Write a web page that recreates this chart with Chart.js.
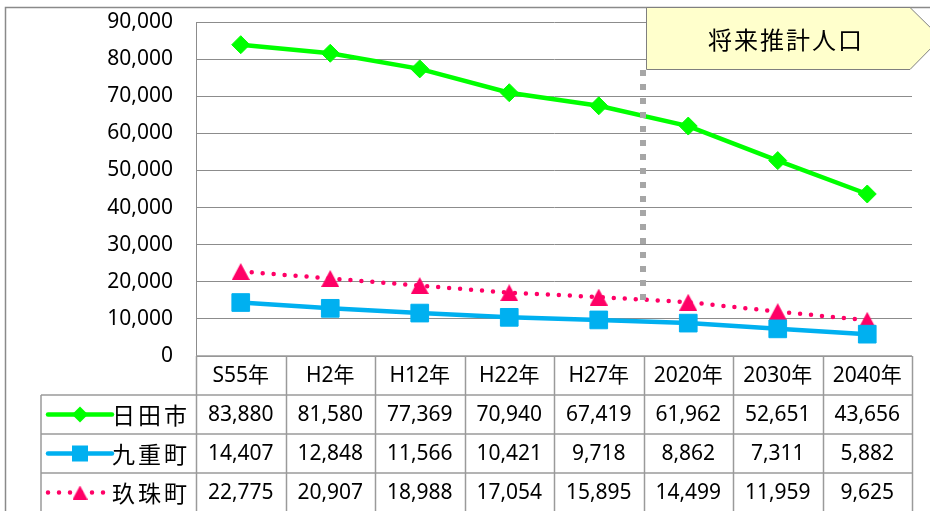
<!DOCTYPE html>
<html><head><meta charset="utf-8">
<script src="https://cdn.jsdelivr.net/npm/chart.js@4/dist/chart.umd.min.js"></script>
<style>html,body{margin:0;padding:0;background:#fff;overflow:hidden}#wrap{width:930px;height:511px;position:relative}</style>
</head><body><div id="wrap"><canvas id="c" width="930" height="511"></canvas></div>
<script>
const categories = ['S55年','H2年','H12年','H22年','H27年','2020年','2030年','2040年'];
const seriesNames = ['日田市','九重町','玖珠町'];
const hitaValues = [83880,81580,77369,70940,67419,61962,52651,43656];
const kokonoeValues = [14407,12848,11566,10421,9718,8862,7311,5882];
const kusuValues = [22775,20907,18988,17054,15895,14499,11959,9625];
const yTicks = [0,10000,20000,30000,40000,50000,60000,70000,80000,90000];
const calloutText = '将来推計人口';
const projectionStartIndex = 5;
const dividerBottomValue = 13500;

const GREEN = '#00FF00', BLUE = '#00B0F0', PINK = '#FF0066';
const LINE_GRAY = '#8c8c8c', TABLE_GRAY = '#9a9a9a';
const NUM_FONT = '21px "Noto Sans", "Open Sans", sans-serif';
const CJK_FONT = '23px "Noto Sans CJK JP", "Noto Sans", sans-serif';

function triangleCanvas(color, w, h) {
  const cv = document.createElement('canvas');
  cv.width = w; cv.height = h;
  const g = cv.getContext('2d');
  g.fillStyle = color;
  g.beginPath(); g.moveTo(w/2, 0); g.lineTo(w, h); g.lineTo(0, h); g.closePath(); g.fill();
  return cv;
}
const triImg = triangleCanvas(PINK, 18, 17);
const triImgSmall = triangleCanvas(PINK, 15, 14);

function drawLegendSample(ctx, i, x0, x1, y) {
  ctx.save();
  const col = [GREEN, BLUE, PINK][i];
  const xm = (x0 + x1) / 2;
  ctx.strokeStyle = col; ctx.fillStyle = col; ctx.lineWidth = 4.5; ctx.lineCap = 'round';
  if (i === 2) { ctx.setLineDash([0, 11]); }
  ctx.beginPath(); ctx.moveTo(x0, y); ctx.lineTo(x1, y); ctx.stroke();
  ctx.setLineDash([]);
  if (i === 0) {
    ctx.beginPath(); ctx.moveTo(xm - 8, y); ctx.lineTo(xm, y - 8); ctx.lineTo(xm + 8, y); ctx.lineTo(xm, y + 8); ctx.closePath(); ctx.fill();
  } else if (i === 1) {
    ctx.fillRect(xm - 8, y - 8, 16, 16);
  } else {
    ctx.drawImage(triImgSmall, xm - 7.5, y - 7);
  }
  ctx.restore();
}

const tablePlugin = {
  id: 'tableAndNotes',
  afterDatasetsDraw(chart) {
    const ctx = chart.ctx, xs = chart.scales.x, ys = chart.scales.y;
    const colW = xs.getPixelForValue(1) - xs.getPixelForValue(0);
    const left = xs.getPixelForValue(0) - colW / 2;
    const xDiv = Math.round(left + projectionStartIndex * colW) - 1;
    ctx.save();
    ctx.strokeStyle = '#a6a6a6'; ctx.lineWidth = 6; ctx.setLineDash([6, 8]);
    ctx.beginPath(); ctx.moveTo(xDiv, 70); ctx.lineTo(xDiv, ys.getPixelForValue(dividerBottomValue)); ctx.stroke();
    ctx.restore();
  },
  afterDraw(chart) {
    const ctx = chart.ctx, xs = chart.scales.x, ys = chart.scales.y;
    const n = categories.length;
    const colW = xs.getPixelForValue(1) - xs.getPixelForValue(0);
    const left = xs.getPixelForValue(0) - colW / 2;
    const right = left + n * colW;
    const top = ys.getPixelForValue(0);
    const rowH = 39;
    const legLeft = 41;
    const rowsTop = top + rowH;
    const bottom = rowsTop + 3 * rowH;
    const all = [hitaValues, kokonoeValues, kusuValues];
    ctx.save();
    ctx.strokeStyle = '#8a8a8a'; ctx.lineWidth = 1.5;
    ctx.strokeRect(5.5, 7.5, 1000, 1000);
    ctx.strokeStyle = TABLE_GRAY; ctx.lineWidth = 1.5;
    ctx.beginPath();
    ctx.moveTo(left, top); ctx.lineTo(right, top);
    ctx.moveTo(legLeft, rowsTop); ctx.lineTo(right, rowsTop);
    for (let r = 1; r <= 3; r++) { ctx.moveTo(legLeft, rowsTop + r * rowH); ctx.lineTo(right, rowsTop + r * rowH); }
    ctx.moveTo(legLeft, rowsTop); ctx.lineTo(legLeft, bottom);
    for (let c = 0; c <= n; c++) { const x = Math.round(left + c * colW) + 0.5; ctx.moveTo(x, top); ctx.lineTo(x, bottom); }
    ctx.stroke();
    ctx.fillStyle = '#000'; ctx.textAlign = 'center'; ctx.textBaseline = 'middle';
    ctx.font = '21px "Noto Sans", "Noto Sans CJK JP", sans-serif';
    categories.forEach((cat, c) => ctx.fillText(cat, left + (c + 0.5) * colW, top + rowH / 2 + 1));
    for (let r = 0; r < 3; r++) {
      const yc = rowsTop + (r + 0.5) * rowH;
      ctx.font = NUM_FONT; ctx.textAlign = 'center'; ctx.fillStyle = '#000';
      all[r].forEach((v, c) => ctx.fillText(v.toLocaleString('en-US'), left + (c + 0.5) * colW, yc + 1));
      ctx.font = CJK_FONT; ctx.textAlign = 'right'; ctx.letterSpacing = '3px';
      ctx.fillText(seriesNames[r], 190, yc + 1);
      ctx.letterSpacing = '0px';
      drawLegendSample(ctx, r, 48, 112, yc);
    }
    ctx.beginPath();
    ctx.moveTo(646.5, 7.5); ctx.lineTo(910, 7.5); ctx.lineTo(941, 38); ctx.lineTo(910, 69.5); ctx.lineTo(646.5, 69.5); ctx.closePath();
    ctx.fillStyle = '#FFFFCC'; ctx.fill();
    ctx.strokeStyle = '#7f7f7f'; ctx.lineWidth = 1; ctx.stroke();
    ctx.fillStyle = '#000'; ctx.font = '24px "Noto Sans CJK JP", sans-serif';
    ctx.textAlign = 'center'; ctx.letterSpacing = '2px';
    ctx.fillText(calloutText, 786, 40);
    ctx.restore();
  }
};

new Chart(document.getElementById('c'), {
  type: 'line',
  data: {
    labels: categories,
    datasets: [
      { label: seriesNames[0], data: hitaValues, borderColor: GREEN, backgroundColor: GREEN, borderWidth: 4.5,
        pointStyle: 'rectRot', pointRadius: 9, pointBackgroundColor: GREEN, pointBorderColor: GREEN, pointBorderWidth: 1, tension: 0 },
      { label: seriesNames[1], data: kokonoeValues, borderColor: BLUE, backgroundColor: BLUE, borderWidth: 4.5,
        pointStyle: 'rect', pointRadius: 12.5, pointBackgroundColor: BLUE, pointBorderColor: BLUE, pointBorderWidth: 1, tension: 0 },
      { label: seriesNames[2], data: kusuValues, borderColor: PINK, backgroundColor: PINK, borderWidth: 4.5,
        borderDash: [0, 11], borderCapStyle: 'round', pointStyle: triImg, pointRadius: 10, tension: 0 }
    ]
  },
  options: {
    responsive: false, animation: false, devicePixelRatio: 1,
    layout: { padding: { left: 0, top: 22, right: 18, bottom: 155 } },
    plugins: { legend: { display: false }, tooltip: { enabled: false } },
    scales: {
      x: { type: 'category', display: false, offset: true },
      y: {
        min: 0, max: 90000,
        afterFit(scale) { scale.width = 196; },
        afterBuildTicks(scale) { scale.ticks = yTicks.map(v => ({ value: v })); },
        ticks: { font: { family: '"Noto Sans", "Open Sans", sans-serif', size: 21 }, color: '#000', padding: 0,
          callback: v => Number(v).toLocaleString('en-US') },
        grid: { color: LINE_GRAY, lineWidth: 1, drawTicks: true, tickLength: 23, tickColor: 'rgba(0,0,0,0)' },
        border: { display: true, color: LINE_GRAY, width: 1 }
      }
    }
  },
  plugins: [tablePlugin]
});
</script>
</body></html>
